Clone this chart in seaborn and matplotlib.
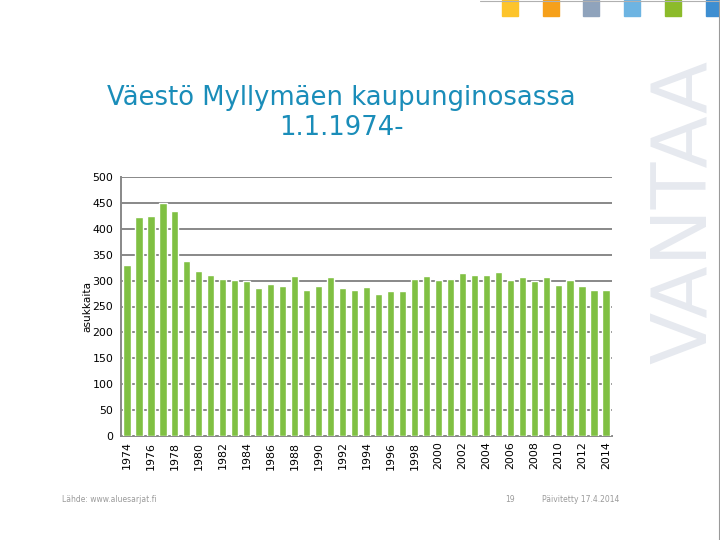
import matplotlib
matplotlib.use("Agg")
import matplotlib.pyplot as plt
import seaborn as sns
import pandas as pd
from matplotlib.patches import Rectangle
from matplotlib.lines import Line2D

# Väestö Myllymäen kaupunginosassa 1.1.1974-
vuodet = [str(v) for v in range(1974, 2015)]
asukkaat = [331, 423, 425, 449, 434, 338, 319, 311, 303, 301,
            299, 285, 294, 289, 308, 282, 290, 306, 285, 281,
            288, 275, 279, 280, 303, 308, 301, 304, 315, 311,
            310, 317, 301, 307, 299, 307, 292, 301, 289, 281,
            281]
y_tikit = list(range(0, 501, 50))
x_nimet = vuodet[::2]

otsikko = "Väestö Myllymäen kaupunginosassa\n1.1.1974-"
lahde = "Lähde: www.aluesarjat.fi"
sivu = "19"
paivitetty = "Päivitetty 17.4.2014"

df = pd.DataFrame({"vuosi": vuodet, "asukkaita": asukkaat})

sns.set_style("white")
plt.rcParams["font.family"] = ["DejaVu Sans"]

fig = plt.figure(figsize=(7.2, 5.4), dpi=100)
fig.patch.set_facecolor("white")

# Vantaa-tunnusneliöt yläreunassa
nelio_varit = ["#FDC42B", "#F6A01A", "#8FA3BC", "#6DB4E2", "#8CBB2A", "#3E8ED1"]
nelio_x = [502, 543, 583, 624, 665, 706]
for x, c in zip(nelio_x, nelio_varit):
    fig.patches.append(Rectangle((x / 720, 1 - 16 / 540), 16 / 720, 16 / 540,
                                 transform=fig.transFigure, color=c, zorder=0))
fig.lines.append(Line2D([719 / 720, 719 / 720], [0, 1], transform=fig.transFigure,
                        color="#9a9a9a", lw=0.8))
fig.lines.append(Line2D([480 / 720, 1], [539.5 / 540, 539.5 / 540], transform=fig.transFigure,
                        color="#b0b0b0", lw=0.8))

# VANTAA vesileima
fig.text(685 / 720, 1 - 212 / 540, "VANTAA", rotation=90, ha="center", va="center",
         fontsize=55, color="#E6E9EF", zorder=0)

ax = fig.add_axes([121 / 720, (540 - 436) / 540, 491 / 720, 259 / 540])
sns.barplot(data=df, x="vuosi", y="asukkaita", color="#80C043", saturation=1,
            width=0.6, ax=ax)
for p in ax.patches:
    p.set_zorder(3)

ax.set_ylim(0, 500)
ax.set_yticks(y_tikit)
ax.set_xlim(-0.5, len(vuodet) - 0.5)
ax.set_xticks(range(0, len(vuodet), 2))
ax.set_xticklabels(x_nimet, rotation=90)
ax.set_xticks([i - 0.5 for i in range(len(vuodet) + 1)], minor=True)
ax.tick_params(axis="x", which="major", length=0, labelsize=7.9, pad=4, labelcolor="black")
ax.tick_params(axis="x", which="minor", length=4, color="#888888", width=1)
ax.tick_params(axis="y", length=5, direction="inout", color="#888888", width=1.2,
               labelsize=7.9, pad=3, labelcolor="black")
ax.set_axisbelow(True)
ax.yaxis.grid(True, color="#888888", lw=1.4)
for s in ["top", "right"]:
    ax.spines[s].set_visible(False)
ax.spines["left"].set_color("#888888")
ax.spines["left"].set_linewidth(1.4)
ax.spines["bottom"].set_color("#888888")
ax.spines["bottom"].set_linewidth(1.4)
ax.set_xlabel("")
ax.set_ylabel("asukkaita", fontsize=7.6, labelpad=0, color="black")
ax.patch.set_alpha(0)

fig.text(341 / 720, 1 - 113 / 540, otsikko, ha="center", va="center",
         fontsize=18.6, color="#1A8DB9", linespacing=1.2)

fig.text(62 / 720, 1 - 500 / 540, lahde, fontsize=5.5, color="#9a9a9a", va="center")
fig.text(505 / 720, 1 - 500 / 540, sivu, fontsize=5.5, color="#9a9a9a", va="center")
fig.text(542 / 720, 1 - 500 / 540, paivitetty, fontsize=5.5, color="#9a9a9a", va="center")

fig.savefig("out.png", dpi=100)
